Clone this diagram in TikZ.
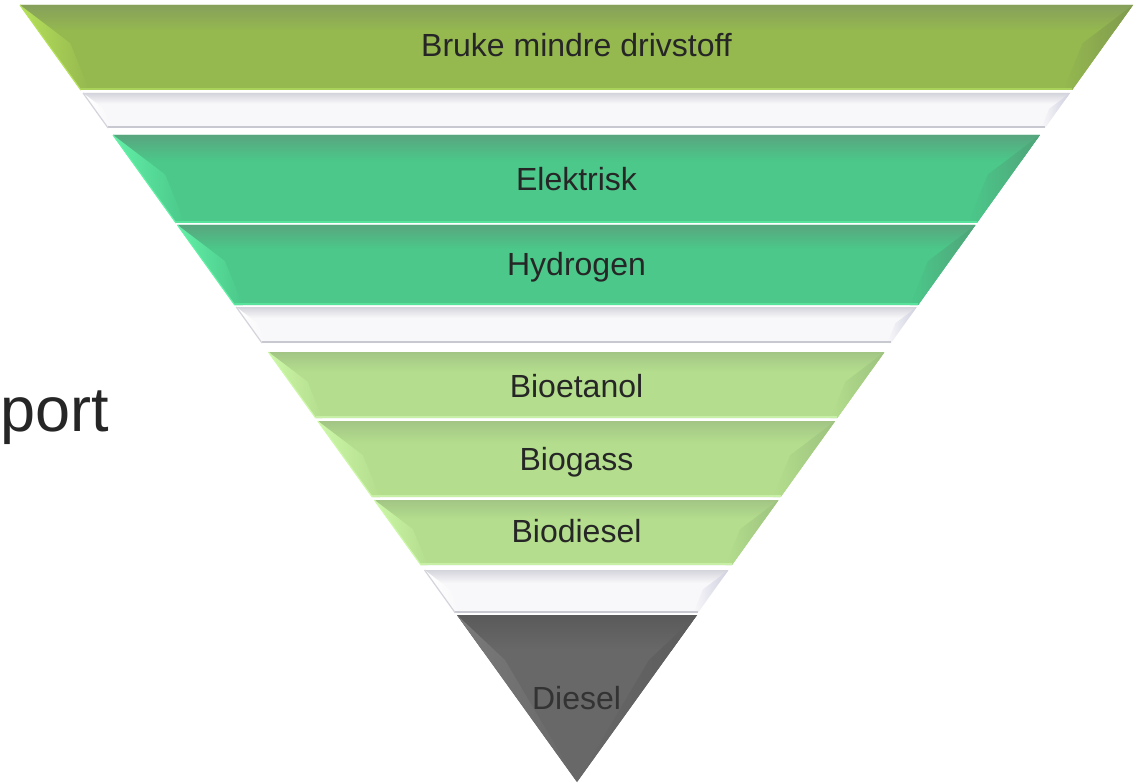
\documentclass[tikz,border=0pt]{standalone}
\usepackage{fontspec}
\setmainfont{Liberation Sans}
\definecolor{olMain}{HTML}{95B84F}
\definecolor{olTop}{HTML}{86A05B}
\definecolor{olLeft}{HTML}{B5E05A}
\definecolor{olRight}{HTML}{7F9A4E}
\definecolor{olBot}{HTML}{A9D25B}
\definecolor{tlMain}{HTML}{4BC88A}
\definecolor{tlTop}{HTML}{58A67E}
\definecolor{tlLeft}{HTML}{62EFA6}
\definecolor{tlRight}{HTML}{4FA478}
\definecolor{tlBot}{HTML}{58E29C}
\definecolor{lgMain}{HTML}{B4DE8D}
\definecolor{lgTop}{HTML}{A2C585}
\definecolor{lgLeft}{HTML}{CCF7A8}
\definecolor{lgRight}{HTML}{9DC27E}
\definecolor{lgBot}{HTML}{C8EFA6}
\definecolor{whMain}{HTML}{F8F8FA}
\definecolor{whTop}{HTML}{D4D4DC}
\definecolor{whLeft}{HTML}{FFFFFF}
\definecolor{whRight}{HTML}{CFCFE0}
\definecolor{whBot}{HTML}{C8C8D0}
\definecolor{whEdge}{HTML}{D4D4DC}
\definecolor{dsMain}{HTML}{686868}
\definecolor{dsTop}{HTML}{5A5A5A}
\definecolor{dsLeft}{HTML}{7A7A7A}
\definecolor{dsRight}{HTML}{5C5C5C}
\definecolor{txt}{HTML}{262626}
% #1 ytop, #2 ybottom, #3 main, #4 top, #5 left facet, #6 right facet, #7 bottom line, #8 left edge
\newcommand\pyrband[8]{%
 \pgfmathsetmacro\plt{20+0.716*(#1-5)}%
 \pgfmathsetmacro\prt{1133-0.716*(#1-5)}%
 \pgfmathsetmacro\plb{20+0.716*(#2-5)}%
 \pgfmathsetmacro\prb{1133-0.716*(#2-5)}%
 \pgfmathsetmacro\phh{#2-#1}%
 \pgfmathsetmacro\pym{#1+0.45*\phh}%
 \pgfmathsetmacro\plm{20+0.716*(\pym-5)+0.27*\phh}%
 \pgfmathsetmacro\prm{1133-0.716*(\pym-5)-0.27*\phh}%
 \pgfmathsetmacro\pins{0.1*\phh}%
 \pgfmathsetmacro\pyt{#1+0.3*\phh}%
 \fill[#3] (\plt,#1) -- (\prt,#1) -- (\prb,#2) -- (\plb,#2) -- cycle;
 \begin{scope}
  \clip (\plt,#1) -- (\prt,#1) -- (\prb,#2) -- (\plb,#2) -- cycle;
  \shade[top color=#4, bottom color=#3] (\plt,#1) rectangle (\prt,\pyt);
 \end{scope}
 \shade[left color=#5, right color=#3] (\plt,#1) -- (\plm,\pym) -- ({\plb+\pins},#2) -- (\plb,#2) -- cycle;
 \shade[right color=#6, left color=#3] (\prt,#1) -- (\prm,\pym) -- ({\prb-\pins},#2) -- (\prb,#2) -- cycle;
 \draw[#7, line width=2] (\plb,{#2-1}) -- (\prb,{#2-1});
 \draw[#8, line width=1.2] (\plt,#1) -- (\plb,#2);
}
\begin{document}
\begin{tikzpicture}[x=1pt,y=-1pt,
  lbl/.style={text=txt, inner sep=0pt, anchor=base, font=\fontsize{32}{38}\selectfont}]
\clip (0,0) rectangle (1147,783);
\fill[white] (0,0) rectangle (1147,783);
\pyrband{5}{90}{olMain}{olTop}{olLeft}{olRight}{olBot}{olLeft}
\pyrband{93}{128}{whMain}{whTop}{whLeft}{whRight}{whBot}{whEdge}
\pyrband{135}{223}{tlMain}{tlTop}{tlLeft}{tlRight}{tlBot}{tlLeft}
\pyrband{225}{305}{tlMain}{tlTop}{tlLeft}{tlRight}{tlBot}{tlLeft}
\pyrband{307}{343}{whMain}{whTop}{whLeft}{whRight}{whBot}{whEdge}
\pyrband{352}{418}{lgMain}{lgTop}{lgLeft}{lgRight}{lgBot}{lgLeft}
\pyrband{421}{497}{lgMain}{lgTop}{lgLeft}{lgRight}{lgBot}{lgLeft}
\pyrband{500}{565}{lgMain}{lgTop}{lgLeft}{lgRight}{lgBot}{lgLeft}
\pyrband{570}{613}{whMain}{whTop}{whLeft}{whRight}{whBot}{whEdge}
% Diesel triangle
\fill[dsMain] (457,615) -- (697,615) -- (577,782) -- cycle;
\begin{scope}
 \clip (457,615) -- (697,615) -- (577,782) -- cycle;
 \shade[top color=dsTop, bottom color=dsMain] (457,615) rectangle (697,650);
\end{scope}
\shade[left color=dsLeft, right color=dsMain] (457,615) -- (505,660) -- (577,782) -- cycle;
\shade[right color=dsRight, left color=dsMain] (697,615) -- (649,660) -- (577,782) -- cycle;
% labels
\node[lbl] (t1) at (576.5,57) {Bruke mindre drivstoff};
\node[lbl] (t2) at (576.5,191) {Elektrisk};
\node[lbl] (t3) at (576.5,276) {Hydrogen};
\node[lbl] (t4) at (576.5,397) {Bioetanol};
\node[lbl] (t5) at (576.5,470) {Biogass};
\node[lbl] (t6) at (576.5,542) {Biodiesel};
\node[lbl, text=black!80] (t7) at (576.5,709) {Diesel};
\node[text=txt, inner sep=0pt, anchor=base west, font=\fontsize{63}{70}\selectfont] (side) at (0,431) {port};
\end{tikzpicture}
\end{document}
